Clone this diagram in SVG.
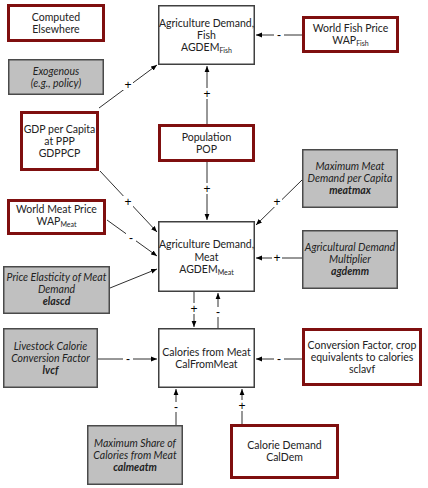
<svg xmlns="http://www.w3.org/2000/svg" width="428" height="488" viewBox="0 0 428 488">
<defs>
<marker id="ah" viewBox="0 0 10 10" refX="10" refY="5" markerWidth="6" markerHeight="6" orient="auto" markerUnits="userSpaceOnUse">
<path d="M0,1 L10,5 L0,9 z" fill="#000"/>
</marker>
<style>
text{font-family:Lato,"Liberation Sans",Arial,sans-serif;font-size:10.5px;fill:#222;text-anchor:middle}
.red{fill:#fff;stroke:#7f0f0f;stroke-width:3}
.gray{fill:#c0c0c0;stroke:#4a4a4a;stroke-width:1.5}
.blk{fill:#fff;stroke:#404040;stroke-width:1.5}
.it{font-style:italic}
.b{font-weight:bold}
.sub{font-size:7px}
#connectors line{stroke:#303030;stroke-width:1;marker-end:url(#ah)}
.bg{fill:#fff}
.lbl{font-family:"Liberation Sans",Arial,sans-serif;font-size:12px;fill:#000}
</style>
</defs>
<rect width="428" height="488" fill="#fff"/>

<g id="connectors">
<line x1="99" y1="108" x2="157" y2="65"/>
<line x1="207" y1="124" x2="207" y2="66"/>
<line x1="302" y1="35" x2="256" y2="35"/>
<line x1="100" y1="171" x2="157" y2="232"/>
<line x1="207" y1="162" x2="207" y2="220"/>
<line x1="107" y1="220" x2="157" y2="256"/>
<line x1="110" y1="288" x2="157" y2="269"/>
<line x1="302" y1="180" x2="256" y2="225"/>
<line x1="302" y1="258" x2="256" y2="258"/>
<line x1="194" y1="292" x2="194" y2="327"/>
<line x1="218" y1="328" x2="218" y2="293"/>
<line x1="98" y1="359" x2="157" y2="359"/>
<line x1="302" y1="359" x2="256" y2="359"/>
<line x1="176" y1="425" x2="176" y2="389"/>
<line x1="242" y1="424" x2="242" y2="389"/>
<rect class="bg" x="123" y="79" width="10" height="11"/>
<rect class="bg" x="202" y="88" width="10" height="11"/>
<rect class="bg" x="274" y="30" width="10" height="10"/>
<rect class="bg" x="123" y="196" width="10" height="11"/>
<rect class="bg" x="202" y="183" width="10" height="11"/>
<rect class="bg" x="126" y="233" width="10" height="10"/>
<rect class="bg" x="272" y="196" width="10" height="11"/>
<rect class="bg" x="272" y="252" width="10" height="11"/>
<rect class="bg" x="189" y="303" width="10" height="11"/>
<rect class="bg" x="213" y="307" width="10" height="10"/>
<rect class="bg" x="123" y="354" width="10" height="10"/>
<rect class="bg" x="274" y="354" width="10" height="10"/>
<rect class="bg" x="171" y="402" width="10" height="10"/>
<rect class="bg" x="237" y="400" width="10" height="11"/>
<text class="lbl" x="128" y="89">+</text>
<text class="lbl" x="207" y="98">+</text>
<text class="lbl" x="279" y="39">-</text>
<text class="lbl" x="128" y="206">+</text>
<text class="lbl" x="207" y="193">+</text>
<text class="lbl" x="131" y="242">-</text>
<text class="lbl" x="277" y="206">+</text>
<text class="lbl" x="277" y="262">+</text>
<text class="lbl" x="194" y="313">+</text>
<text class="lbl" x="218" y="316">-</text>
<text class="lbl" x="128" y="363">-</text>
<text class="lbl" x="279" y="363">-</text>
<text class="lbl" x="176" y="411">-</text>
<text class="lbl" x="242" y="410">+</text>
</g>

<g id="computed">
<rect class="red" x="8.5" y="5.5" width="95" height="35"/>
<text x="56" y="21">Computed</text>
<text x="56" y="33">Elsewhere</text>
</g>

<g id="exogenous">
<rect class="gray" x="8.75" y="59.75" width="94.5" height="34.5"/>
<text class="it" x="56" y="75">Exogenous</text>
<text class="it" x="56" y="87">(e.g., policy)</text>
</g>

<g id="gdppcp">
<rect class="red" x="21.5" y="112.5" width="76" height="57"/>
<text x="59.5" y="133">GDP per Capita</text>
<text x="59.5" y="145">at PPP</text>
<text x="59.5" y="157">GDPPCP</text>
</g>

<g id="agdemfish">
<rect class="blk" x="158.75" y="5.75" width="95.5" height="58.5"/>
<text x="206.5" y="27">Agriculture Demand,</text>
<text x="206.5" y="39">Fish</text>
<text x="206.5" y="51">AGDEM<tspan class="sub" dy="1.5">Fish</tspan></text>
</g>

<g id="wapfish">
<rect class="red" x="303.5" y="17.5" width="94" height="34"/>
<text x="350.5" y="32">World Fish Price</text>
<text x="350.5" y="44">WAP<tspan class="sub" dy="1.5">Fish</tspan></text>
</g>

<g id="pop">
<rect class="red" x="159.5" y="125.5" width="94" height="35"/>
<text x="206.5" y="141">Population</text>
<text x="206.5" y="153">POP</text>
</g>

<g id="meatmax">
<rect class="gray" x="302.75" y="149.75" width="94.5" height="57.5"/>
<text class="it" x="350" y="170">Maximum Meat</text>
<text class="it" x="350" y="182">Demand per Capita</text>
<text class="it b" x="350" y="194">meatmax</text>
</g>

<g id="wapmeat">
<rect class="red" x="8.5" y="200.5" width="96" height="33"/>
<text x="56.5" y="213">World Meat Price</text>
<text x="56.5" y="225">WAP<tspan class="sub" dy="1.5">Meat</tspan></text>
</g>

<g id="agdemmeat">
<rect class="blk" x="158.75" y="221.75" width="95.5" height="69.5"/>
<text x="206.5" y="248">Agriculture Demand,</text>
<text x="206.5" y="260.5">Meat</text>
<text x="206.5" y="273">AGDEM<tspan class="sub" dy="1.5">Meat</tspan></text>
</g>

<g id="agdemm">
<rect class="gray" x="302.75" y="230.75" width="94.5" height="57.5"/>
<text class="it" x="350" y="251">Agricultural Demand</text>
<text class="it" x="350" y="263">Multiplier</text>
<text class="it b" x="350" y="275">agdemm</text>
</g>

<g id="elascd">
<rect class="gray" x="3.75" y="266.75" width="105.5" height="46.5"/>
<text class="it" x="56.5" y="281">Price Elasticity of Meat</text>
<text class="it" x="56.5" y="293">Demand</text>
<text class="it b" x="56.5" y="305">elascd</text>
</g>

<g id="lvcf">
<rect class="gray" x="3.75" y="328.75" width="93.5" height="58.5"/>
<text class="it" x="50.5" y="350">Livestock Calorie</text>
<text class="it" x="50.5" y="362">Conversion Factor</text>
<text class="it b" x="50.5" y="374">lvcf</text>
</g>

<g id="calfrommeat">
<rect class="blk" x="158.75" y="328.75" width="95.5" height="58.5"/>
<text x="206.5" y="356">Calories from Meat</text>
<text x="206.5" y="368">CalFromMeat</text>
</g>

<g id="sclavf">
<rect class="red" x="303.5" y="329.5" width="117" height="55"/>
<text x="362" y="349">Conversion Factor, crop</text>
<text x="362" y="361">equivalents to calories</text>
<text x="362" y="373">sclavf</text>
</g>

<g id="calmeatm">
<rect class="gray" x="87.75" y="425.75" width="94.5" height="58.5"/>
<text class="it" x="135" y="447">Maximum Share of</text>
<text class="it" x="135" y="459">Calories from Meat</text>
<text class="it b" x="135" y="471">calmeatm</text>
</g>

<g id="caldem">
<rect class="red" x="231.5" y="425.5" width="106" height="52"/>
<text x="284.5" y="449">Calorie Demand</text>
<text x="284.5" y="461">CalDem</text>
</g>
</svg>
